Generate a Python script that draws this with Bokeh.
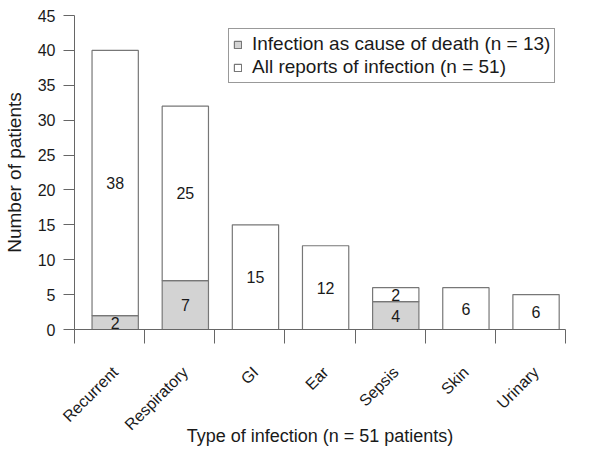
from math import pi
from bokeh.plotting import figure
from bokeh.models import ColumnDataSource, Range1d, FixedTicker, Legend, LegendItem
from bokeh.embed import file_html
from bokeh.resources import INLINE
from bokeh.core.properties import value

# ---- data ----
categories = ["Recurrent", "Respiratory", "GI", "Ear", "Sepsis", "Skin", "Urinary"]
death_counts = [2, 7, 0, 0, 4, 0, 0]          # grey segment (infection as cause of death)
other_counts = [38, 25, 15, 12, 2, 6, 5]      # white segment as drawn
other_labels = ["38", "25", "15", "12", "2", "6", "6"]
y_ticks = [0, 5, 10, 15, 20, 25, 30, 35, 40, 45]
legend_labels = ["Infection as cause of death (n = 13)",
                 "All reports of infection (n = 51)"]
x_title = "Type of infection (n = 51 patients)"
y_title = "Number of patients"

FONT = "Liberation Sans"
AXIS_COLOR = "#666666"
BAR_LINE = "#777777"
GREY_FILL = "#d3d3d3"
TEXT_COLOR = "#1a1a1a"
SHIFT = 0.58   # category boundary offset relative to bar centres
BAR_W = 0.66

n = len(categories)
xs = list(range(n))

p = figure(width=580, height=452, output_backend="svg", toolbar_location=None,
           x_range=Range1d(-SHIFT, n - SHIFT), y_range=Range1d(0, 45),
           min_border_left=65, min_border_right=15, min_border_top=15,
           min_border_bottom=123)
p.outline_line_color = None
p.xgrid.grid_line_color = None
p.ygrid.grid_line_color = None
p.background_fill_color = "white"
p.border_fill_color = "white"

# grey segments (only where non-zero)
g_x = [x for x, d in zip(xs, death_counts) if d > 0]
g_top = [d for d in death_counts if d > 0]
g_src = ColumnDataSource(dict(x=g_x, top=g_top))
g_r = p.vbar(x="x", top="top", bottom=0, width=BAR_W, source=g_src,
             fill_color=GREY_FILL, line_color=BAR_LINE, line_width=1.2)

# white segments
w_bottom = death_counts
w_top = [d + o for d, o in zip(death_counts, other_counts)]
w_src = ColumnDataSource(dict(x=xs, bottom=w_bottom, top=w_top))
w_r = p.vbar(x="x", top="top", bottom="bottom", width=BAR_W, source=w_src,
             fill_color="white", line_color=BAR_LINE, line_width=1.2)

# value labels at segment mid-points
lab_x = g_x + xs
lab_y = [d / 2 for d in g_top] + [d + o / 2 for d, o in zip(death_counts, other_counts)]
lab_t = [str(d) for d in g_top] + other_labels
l_src = ColumnDataSource(dict(x=lab_x, y=lab_y, t=lab_t))
p.text(x="x", y="y", text="t", source=l_src, text_align="center",
       text_baseline="middle", text_font=value(FONT), text_font_size="16px",
       text_color=TEXT_COLOR)

# y axis
ya = p.yaxis[0]
ya.ticker = FixedTicker(ticks=y_ticks)
ya.axis_line_color = AXIS_COLOR
ya.major_tick_line_color = AXIS_COLOR
ya.major_tick_out = 11
ya.major_tick_in = 0
ya.minor_tick_line_color = None
ya.major_label_text_font = FONT
ya.major_label_text_font_size = "16px"
ya.major_label_text_color = TEXT_COLOR
ya.major_label_standoff = 8
ya.axis_label = y_title
ya.axis_label_text_font = FONT
ya.axis_label_text_font_size = "19px"
ya.axis_label_text_font_style = "normal"
ya.axis_label_text_color = TEXT_COLOR
ya.axis_label_standoff = 10

# x axis: labels at bar centres, ticks at category boundaries
xa = p.xaxis[0]
xa.ticker = FixedTicker(ticks=xs, minor_ticks=[i - SHIFT for i in range(n + 1)])
xa.major_label_overrides = {i: c for i, c in enumerate(categories)}
xa.major_label_orientation = pi / 4
xa.axis_line_color = AXIS_COLOR
xa.major_tick_line_color = None
xa.major_tick_out = 0
xa.major_tick_in = 0
xa.minor_tick_line_color = AXIS_COLOR
xa.minor_tick_out = 14
xa.minor_tick_in = 0
xa.major_label_text_font = FONT
xa.major_label_text_font_size = "16px"
xa.major_label_text_color = TEXT_COLOR
xa.major_label_standoff = 26
xa.axis_label = x_title
xa.axis_label_text_font = FONT
xa.axis_label_text_font_size = "18px"
xa.axis_label_text_font_style = "normal"
xa.axis_label_text_color = TEXT_COLOR
xa.axis_label_standoff = -16

legend = Legend(items=[LegendItem(label=legend_labels[0], renderers=[g_r]),
                       LegendItem(label=legend_labels[1], renderers=[w_r])],
                location=(154, 246))
legend.border_line_color = "#333333"
legend.border_line_width = 1
legend.background_fill_color = "white"
legend.background_fill_alpha = 1
legend.label_text_font = FONT
legend.label_text_font_size = "19px"
legend.label_text_line_height = 1.0
legend.label_text_color = TEXT_COLOR
legend.glyph_width = 9
legend.glyph_height = 9
legend.label_standoff = 10
legend.padding = 4
legend.spacing = 1
legend.margin = 0
legend.label_height = 19
p.add_layout(legend)

open("out.html", "w").write(file_html(p, INLINE))
